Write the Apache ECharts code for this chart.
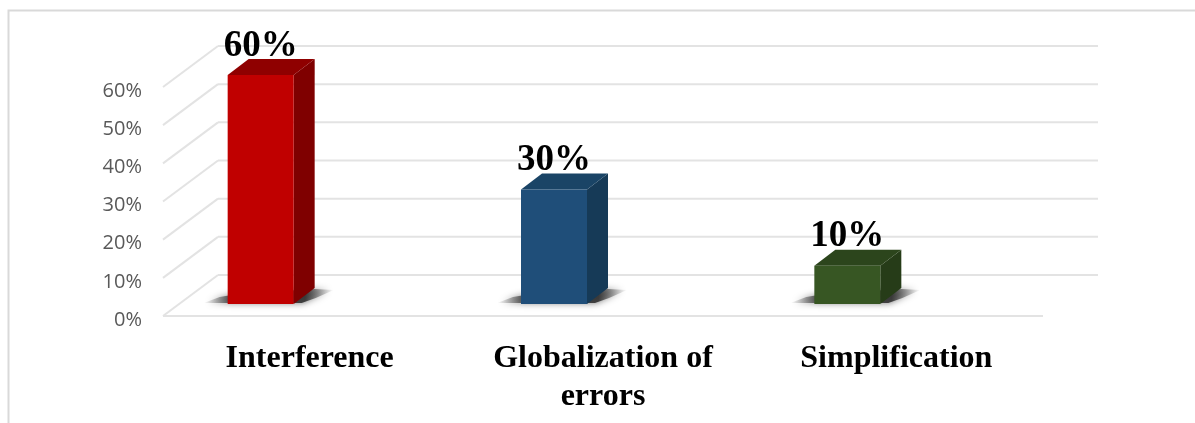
<!DOCTYPE html>
<html><head><meta charset="utf-8">
<style>html,body{margin:0;padding:0;background:#fff}#c{width:1195px;height:423px}</style>
<script src="https://cdn.jsdelivr.net/npm/echarts@6/dist/echarts.min.js"></script>
</head><body><div id="c"></div>
<script>
const categories = ['Interference', 'Globalization of\nerrors', 'Simplification'];
const values = [60, 30, 10];
const valueLabels = ['60%', '30%', '10%'];
const gridTicks = [0, 10, 20, 30, 40, 50, 60];
const faceColors = ['#C00000', '#1F4E79', '#375623'];
const sideColors = ['#7F0000', '#163A57', '#263C18'];
const topColors = ['#8F0000', '#1A4466', '#2C451C'];

const DX = 55, DY = -41;            // wall depth
const BAR_DX = 21, BAR_DY = -16;    // bar depth
const LIFT = 12, HALF = 33, SHIFT = -49; // bar placement on the floor

const chart = echarts.init(document.getElementById('c'), null, {renderer: 'canvas'});
const gridLine = {stroke: '#E3E3E3', lineWidth: 2};
const shadowFill = new echarts.graphic.LinearGradient(0, 0, 1, 0, [
  {offset: 0, color: 'rgba(90,90,90,0)'},
  {offset: 0.22, color: 'rgba(50,50,50,0.85)'},
  {offset: 0.78, color: 'rgba(50,50,50,0.9)'},
  {offset: 1, color: 'rgba(90,90,90,0)'}
]);

chart.setOption({
  animation: false,
  backgroundColor: '#fff',
  graphic: [{
    type: 'polyline', silent: true,
    shape: {points: [[8.5, 423], [8.5, 10.5], [1195, 10.5]]},
    style: {stroke: '#D9D9D9', lineWidth: 2, fill: null}
  }],
  grid: {left: 163, right: 152, top: 87, bottom: 107},
  xAxis: {
    type: 'category', data: categories,
    axisLine: {show: false}, axisTick: {show: false},
    axisLabel: {
      margin: 24, lineHeight: 38, color: '#000',
      fontFamily: 'Liberation Serif', fontWeight: 'bold', fontSize: 32
    }
  },
  yAxis: {
    type: 'value', min: 0, max: 60, interval: 10,
    axisLine: {show: false}, axisTick: {show: false}, splitLine: {show: false},
    axisLabel: {
      margin: 21, color: '#595959', fontFamily: 'Open Sans', fontSize: 20,
      verticalAlign: 'top', lineHeight: 8,
      formatter: v => v + '%'
    }
  },
  series: [{
    type: 'custom', silent: true, z: 1,
    coordinateSystem: 'cartesian2d',
    data: gridTicks.map(t => [0, t]),
    clip: false,
    renderItem(params, api) {
      const t = api.value(1);
      const y = api.coord([0, t])[1];
      const cs = params.coordSys;
      const kids = [
        {type: 'line', shape: {x1: cs.x, y1: y, x2: cs.x + DX, y2: y + DY}, style: gridLine},
        {type: 'line', shape: {x1: cs.x + DX, y1: y + DY, x2: cs.x + cs.width + DX, y2: y + DY}, style: gridLine}
      ];
      if (t === 0) kids.push({type: 'line', shape: {x1: cs.x, y1: y, x2: cs.x + cs.width, y2: y}, style: gridLine});
      return {type: 'group', children: kids};
    }
  }, {
    type: 'custom', silent: true, z: 2,
    coordinateSystem: 'cartesian2d',
    clip: false,
    data: values.map((v, i) => [i, v]),
    renderItem(params, api) {
      const i = params.dataIndex;
      const c = api.coord([i, 0]);
      const top = api.coord([i, api.value(1)])[1];
      const base = c[1] - LIFT, cx = c[0] + SHIFT;
      const l = cx - HALF, r = cx + HALF;
      const poly = (points, fill) => ({type: 'polygon', shape: {points}, style: {fill}});
      const t = top - LIFT;
      const shadow = {
        type: 'polygon',
        shape: {points: [[l - 24, base - 1], [l - 8, base - 7], [l + 10, base - 10], [r + 21, base - 15], [r + 40, base - 14], [r + 22, base - 6], [r + 8, base - 1]]},
        style: {fill: shadowFill, shadowBlur: 7, shadowColor: 'rgba(60,60,60,0.8)'}
      };
      return {type: 'group', children: [
        shadow,
        poly([[r, t], [r + BAR_DX, t + BAR_DY], [r + BAR_DX, base + BAR_DY], [r, base]], sideColors[i]),
        poly([[l, t], [l + BAR_DX, t + BAR_DY], [r + BAR_DX, t + BAR_DY], [r, t]], topColors[i]),
        poly([[l, t], [r, t], [r, base], [l, base]], faceColors[i]),
        {type: 'text', style: {
          text: valueLabels[i], x: cx, y: t - 29, align: 'center', verticalAlign: 'middle',
          fill: '#000', font: 'bold 37px "Liberation Serif"'
        }, z2: 10}
      ]};
    }
  }]
});
</script></body></html>
